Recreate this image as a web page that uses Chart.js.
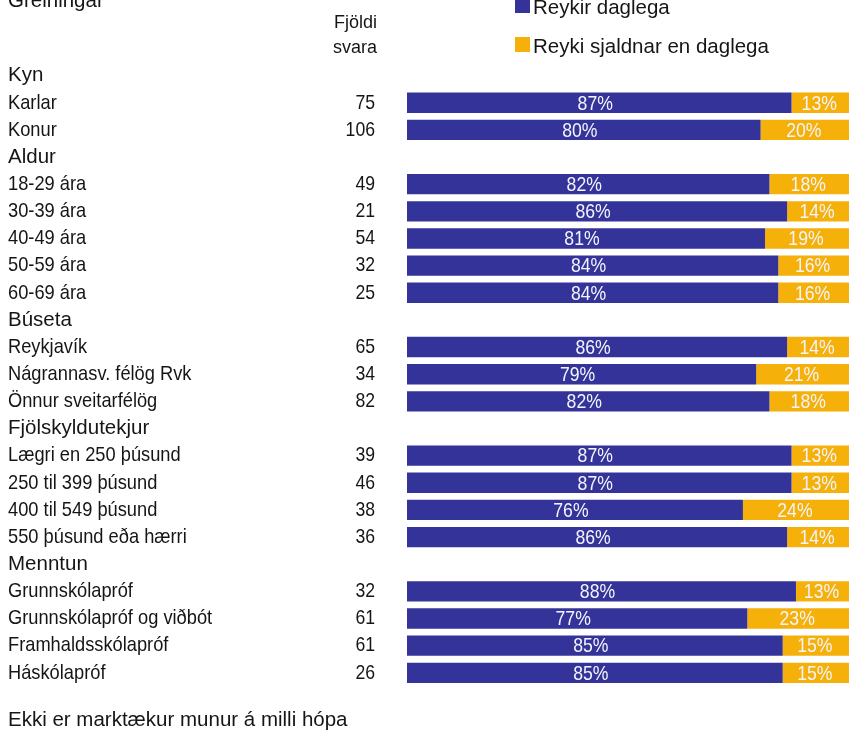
<!DOCTYPE html>
<html><head><meta charset="utf-8">
<script src="https://cdn.jsdelivr.net/npm/chart.js@4.4.1/dist/chart.umd.min.js"></script>
<style>html,body{margin:0;padding:0;background:#fff;overflow:hidden}#wrap{width:849px;height:731px;position:relative}</style>
</head><body>
<div id="wrap"><canvas id="c"></canvas></div>
<script>
const rowLabels = ['Kyn','Karlar','Konur','Aldur','18-29 ára','30-39 ára','40-49 ára','50-59 ára','60-69 ára','Búseta','Reykjavík','Nágrannasv. félög Rvk','Önnur sveitarfélög','Fjölskyldutekjur','Lægri en 250 þúsund','250 til 399 þúsund','400 til 549 þúsund','550 þúsund eða hærri','Menntun','Grunnskólapróf','Grunnskólapróf og viðbót','Framhaldsskólapróf','Háskólapróf'];
const headerRows = ['Kyn','Aldur','Búseta','Fjölskyldutekjur','Menntun'];
const counts = ['',75,106,'',49,21,54,32,25,'',65,34,82,'',39,46,38,36,'',32,61,61,26];
const dailyPct = [null,87,80,null,82,86,81,84,84,null,86,79,82,null,87,87,76,86,null,88,77,85,85];
const lessPct = [null,13,20,null,18,14,19,16,16,null,14,21,18,null,13,13,24,14,null,13,23,15,15];
const seriesNames = ['Reykir daglega','Reyki sjaldnar en daglega'];
const seriesColors = ['#333399','#F5B00A'];
const titleText = 'Greiningar';
const countHeader = ['Fjöldi','svara'];
const footnote = 'Ekki er marktækur munur á milli hópa';

const REG = "'Liberation Sans',Arial,sans-serif";
const TXT = '#151515';
const SQUEEZE_LABEL = 0.87;   // emulates a narrow typeface
const SQUEEZE_NUM = 0.84;

function makeSqueezed(factor) {
  return function (chartArea) {
    const ctx = this.ctx;
    const items = this.getLabelItems(chartArea);
    for (const item of items) {
      const o = item.options;
      const [tx, ty] = o.translation;
      const label = String(item.label);
      if (label === '') continue;
      ctx.save();
      ctx.translate(tx, ty);
      if (!headerRows.includes(label)) ctx.scale(factor, 1);
      ctx.font = item.font.string;
      ctx.fillStyle = o.color;
      ctx.textAlign = o.textAlign;
      ctx.textBaseline = o.textBaseline;
      ctx.fillText(label, 0, item.textOffset);
      ctx.restore();
    }
  };
}

const textPlugin = {
  id: 'texts',
  afterLayout(chart) {
    chart.scales.y.drawLabels = makeSqueezed(SQUEEZE_LABEL);
    chart.scales.y2.drawLabels = makeSqueezed(SQUEEZE_NUM);
  },
  afterDatasetsDraw(chart) {
    const ctx = chart.ctx;
    ctx.save();
    ctx.fillStyle = '#f4f4fb';
    ctx.font = '21px ' + REG;
    ctx.textAlign = 'center';
    ctx.textBaseline = 'middle';
    chart.data.datasets.forEach((ds, i) => {
      const meta = chart.getDatasetMeta(i);
      meta.data.forEach((el, j) => {
        const v = ds.data[j];
        if (v == null) return;
        const right = Math.min(el.x, chart.chartArea.right);
        ctx.save();
        ctx.translate((el.base + right) / 2 - (i === 0 ? 4 : 1), el.y + 1);
        ctx.scale(SQUEEZE_NUM, 1);
        ctx.fillText(v + '%', 0, 0);
        ctx.restore();
      });
    });
    ctx.restore();
  },
  afterDraw(chart) {
    const ctx = chart.ctx;
    ctx.save();
    const lx = 515, ly = [14, 53];
    ctx.font = '20.5px ' + REG;
    ctx.textAlign = 'left';
    ctx.textBaseline = 'alphabetic';
    chart.data.datasets.forEach((ds, i) => {
      ctx.fillStyle = ds.backgroundColor;
      ctx.fillRect(lx, ly[i] - 16, 15, 15);
      ctx.fillStyle = TXT;
      ctx.fillText(ds.label, lx + 18, ly[i]);
    });
    ctx.font = '20.5px ' + REG;
    ctx.fillStyle = TXT;
    ctx.fillText(titleText, 8, 7);
    const y2 = chart.scales.y2;
    ctx.textAlign = 'right';
    ctx.font = '18px ' + REG;
    ctx.fillText(countHeader[0], y2.right - 30, 28);
    ctx.fillText(countHeader[1], y2.right - 30, 53);
    ctx.textAlign = 'left';
    ctx.font = '20.5px ' + REG;
    ctx.fillText(footnote, 8, 726);
    ctx.restore();
  }
};

new Chart(document.getElementById('c'), {
  type: 'bar',
  data: {
    labels: rowLabels,
    datasets: [
      { label: seriesNames[0], data: dailyPct, backgroundColor: seriesColors[0], yAxisID: 'y' },
      { label: seriesNames[1], data: lessPct, backgroundColor: seriesColors[1], yAxisID: 'y' }
    ]
  },
  options: {
    indexAxis: 'y',
    responsive: true,
    maintainAspectRatio: false,
    animation: false,
    devicePixelRatio: 1,
    barPercentage: 0.75,
    categoryPercentage: 1,
    layout: { padding: { left: 8, top: 62, right: 0, bottom: 28 } },
    plugins: { legend: { display: false }, tooltip: { enabled: false }, title: { display: false } },
    scales: {
      x: { stacked: true, min: 0, max: 100, display: false },
      y: {
        stacked: true, position: 'left', weight: 2, offset: true,
        grid: { display: false, drawTicks: false }, border: { display: false },
        ticks: {
          autoSkip: false, crossAlign: 'far', padding: 0, color: TXT,
          font: (c) => headerRows.includes(rowLabels[c.index]) ? { family: REG, size: 20.5 } : { family: REG, size: 21 }
        },
        afterFit(s) { s.width = 300; }
      },
      y2: {
        type: 'category', labels: counts, position: 'left', weight: 1, offset: true,
        grid: { display: false, drawTicks: false }, border: { display: false },
        ticks: { autoSkip: false, padding: 32, color: TXT, font: { family: REG, size: 21 } },
        afterFit(s) { s.width = 99; }
      }
    }
  },
  plugins: [textPlugin]
});
</script>
</body></html>
